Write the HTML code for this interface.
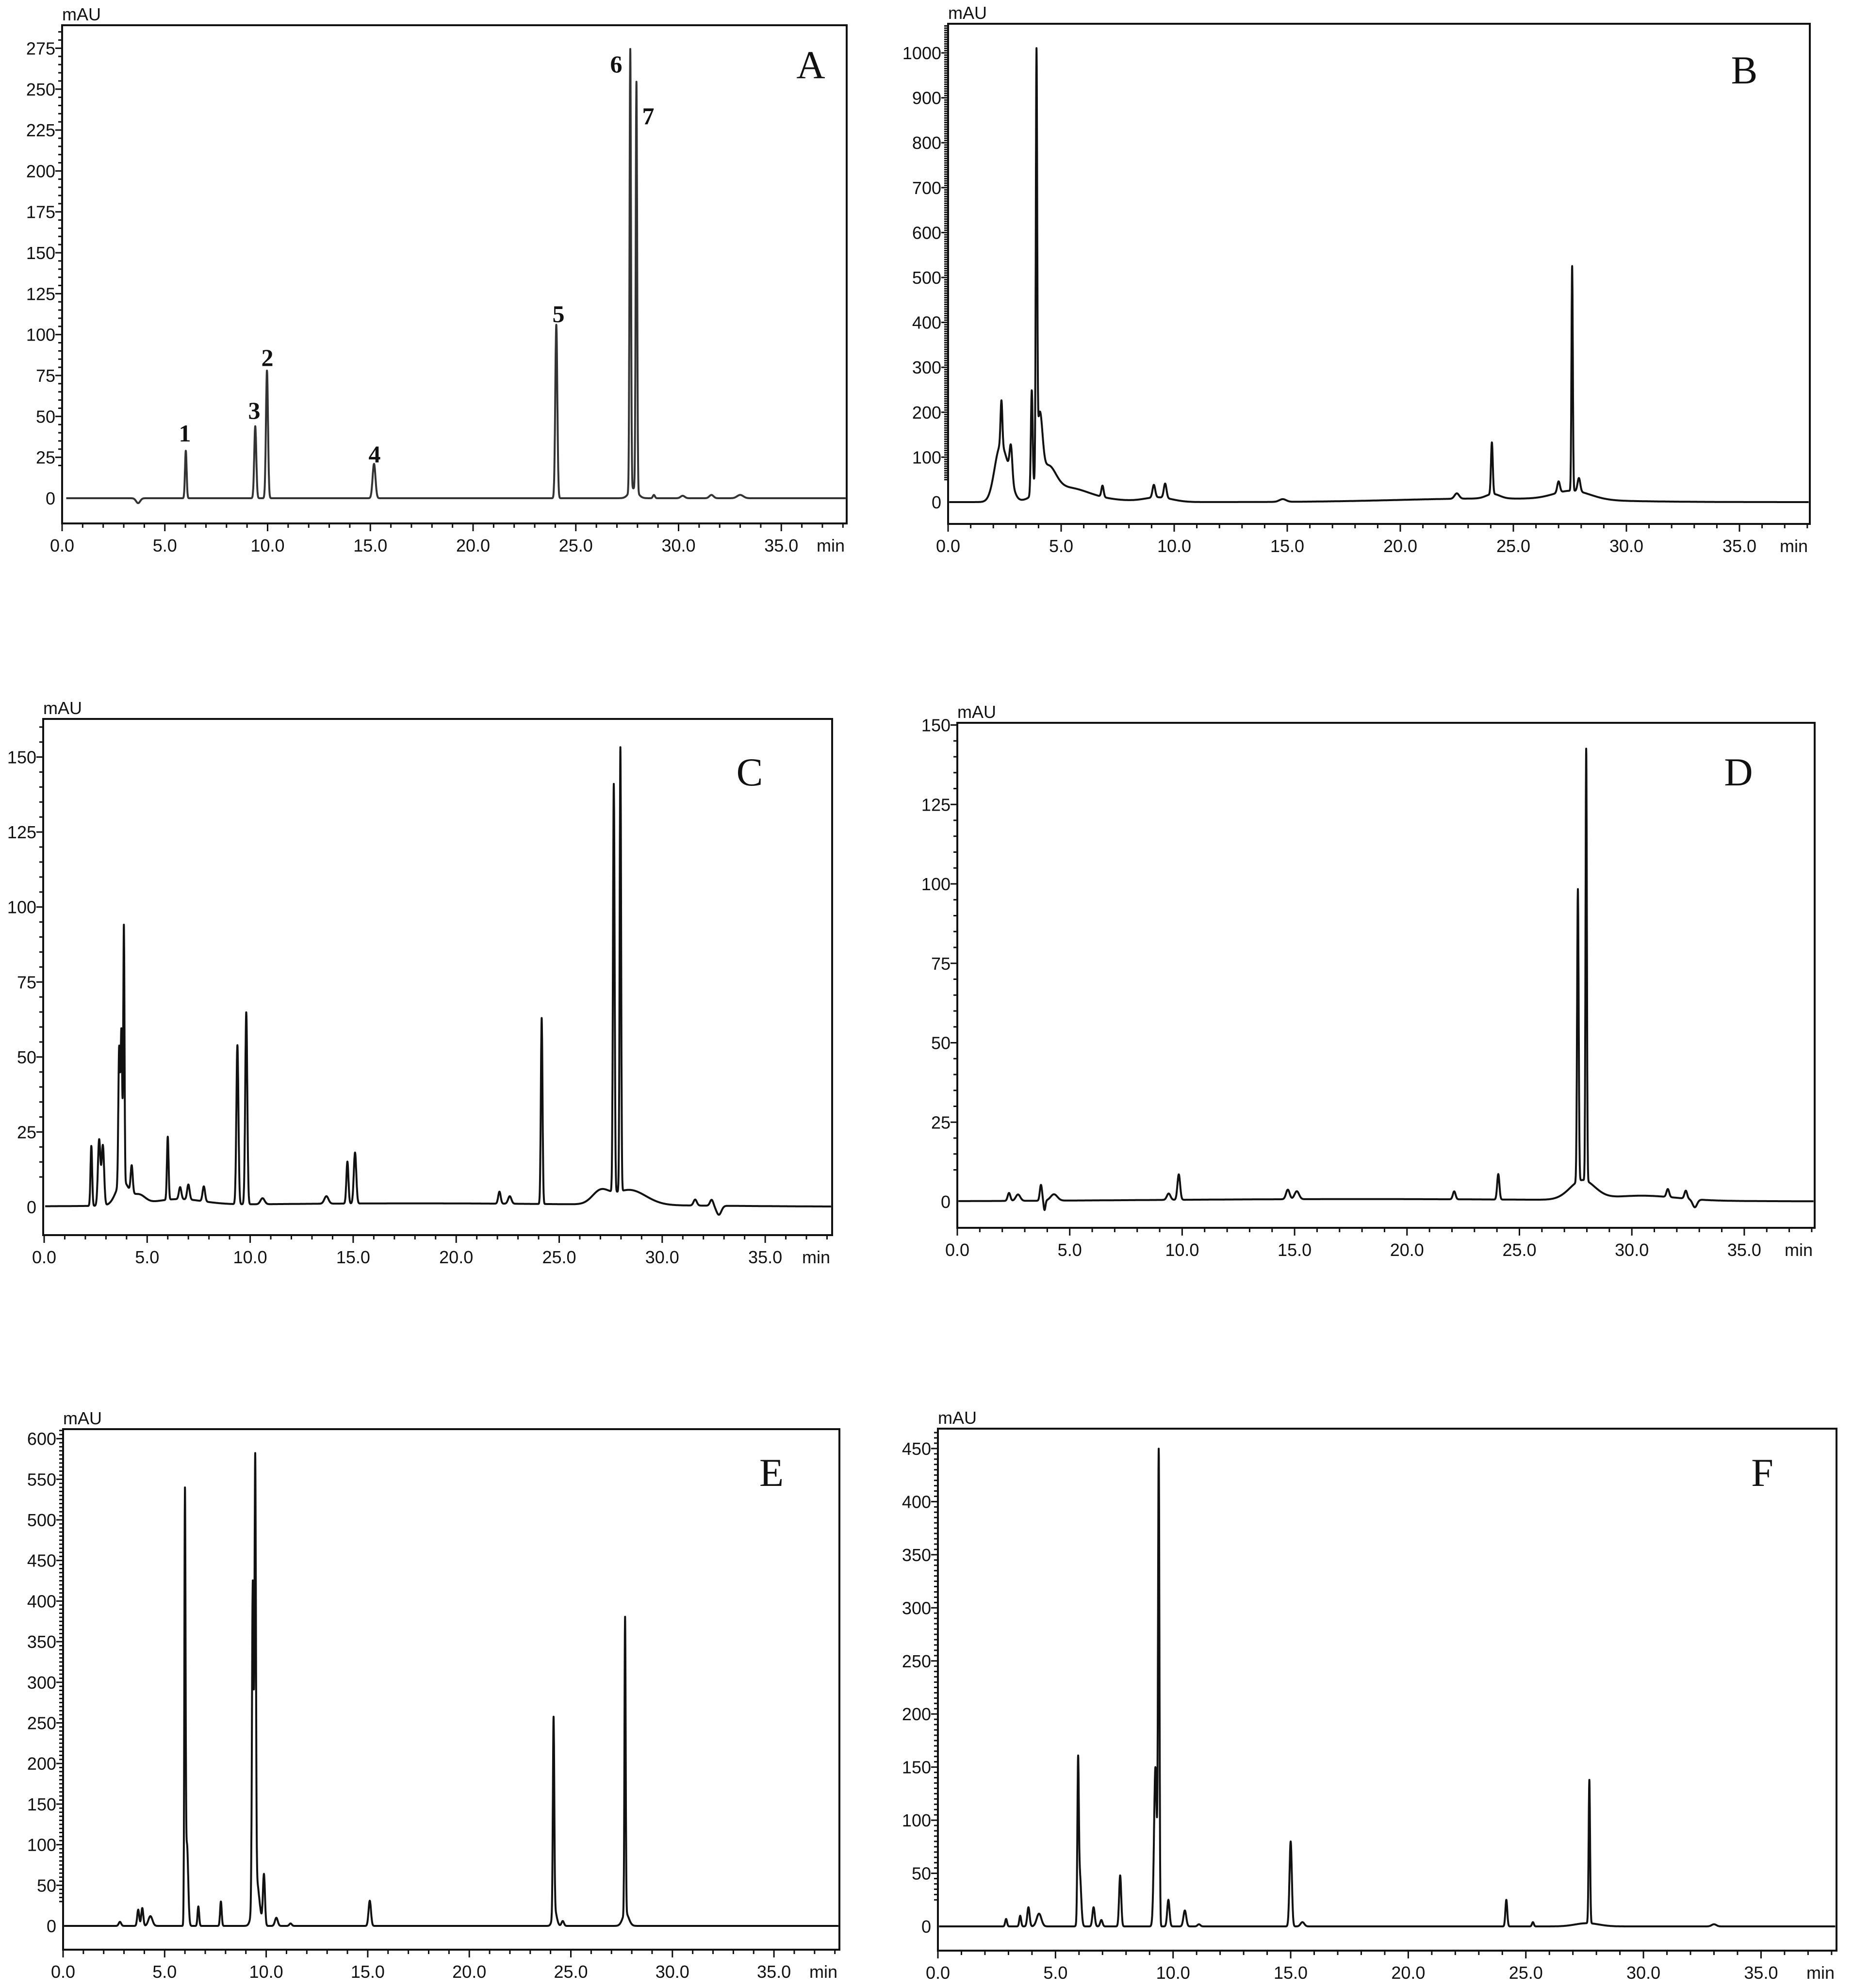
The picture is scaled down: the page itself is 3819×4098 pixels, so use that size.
<!DOCTYPE html>
<html><head><meta charset="utf-8"><title>HPLC chromatograms A–F</title>
<style>
html,body{margin:0;padding:0;background:#fff;}
svg{display:block;}
text{font-family:"Liberation Sans",sans-serif;fill:#111;}
.lt{font-family:"Liberation Serif",serif;}
</style></head>
<body>
<svg id="fig" xmlns="http://www.w3.org/2000/svg" width="3819" height="4098" viewBox="0 0 3819 4098"></svg>
<script>
// ---- data: peaks [time(min), height(mAU), sigma(min)] ----
const peaksA = [[3.7,-3,0.1],[6.02,29,0.04],[9.4,44,0.05],[9.97,78,0.05],[15.18,21,0.07],[24.05,106,0.05],[27.65,270,0.035],[27.95,250,0.035],[27.8,6,0.2],[28.8,2,0.05],[30.2,1.5,0.1],[31.6,2,0.1],[33.0,2,0.15]];
const peaksB = [[2.3,120,0.25],[2.36,100,0.04],[2.78,70,0.06],[2.7,40,0.2],[3.7,230,0.04],[3.91,900,0.03],[4.05,150,0.12],[4.4,60,0.35],[5.2,25,0.9],[6.0,8,1.5],[6.83,25,0.05],[9.1,28,0.06],[9.6,32,0.06],[9.3,10,0.6],[14.8,6,0.15],[22.5,12,0.1],[24.05,115,0.04],[24.1,10,0.3],[27.0,25,0.06],[27.6,500,0.03],[27.9,30,0.06],[27.6,20,0.8],[24,8,4]];
const peaksC = [[2.29,20,0.04],[2.67,22,0.06],[2.85,20,0.06],[3.64,45,0.04],[3.75,50,0.04],[3.87,85,0.03],[3.8,8,0.3],[4.25,9,0.05],[4.6,3,0.3],[6.0,21,0.04],[6.6,4,0.06],[7.0,5,0.06],[7.75,5,0.06],[6.5,2,1.2],[9.38,53,0.05],[9.81,64,0.05],[10.6,2,0.1],[13.7,2.5,0.1],[14.72,14,0.05],[15.09,17,0.06],[22.1,4,0.06],[22.6,2.5,0.08],[24.15,62,0.04],[27.0,4,0.4],[27.65,136,0.04],[27.97,148,0.035],[28.4,5,0.8],[31.6,2,0.08],[32.4,2,0.08],[32.75,-3,0.12],[18,1.2,10]];
const peaksD = [[2.3,2.5,0.06],[2.7,2,0.1],[3.72,5,0.05],[3.88,-3,0.04],[4.3,2,0.15],[9.85,8,0.06],[9.4,2,0.08],[14.7,3,0.08],[15.1,2.5,0.1],[22.1,2.5,0.06],[24.06,8,0.05],[27.8,6,0.55],[27.6,92,0.035],[27.97,136,0.03],[30.5,1.5,1.5],[31.6,2.5,0.06],[32.4,2.5,0.06],[32.8,-2.5,0.1],[18,0.8,10]];
const peaksE = [[2.8,5,0.06],[3.7,20,0.05],[3.9,22,0.05],[4.3,12,0.1],[6.0,515,0.03],[6.1,100,0.06],[6.66,24,0.04],[7.77,30,0.04],[9.34,390,0.04],[9.46,520,0.035],[9.5,60,0.15],[9.89,62,0.05],[10.5,10,0.07],[11.2,3,0.06],[15.1,31,0.06],[24.15,240,0.035],[24.2,20,0.1],[24.6,6,0.06],[27.67,365,0.03],[27.7,16,0.15]];
const peaksF = [[2.9,7,0.04],[3.5,10,0.04],[3.85,18,0.05],[4.3,12,0.1],[5.96,135,0.03],[6.03,50,0.06],[6.62,18,0.05],[6.95,6,0.05],[7.75,48,0.045],[9.25,150,0.06],[9.39,440,0.03],[9.8,25,0.05],[10.5,15,0.06],[11.1,2,0.06],[15.0,80,0.05],[15.5,4,0.08],[24.17,25,0.04],[25.3,4,0.04],[27.7,135,0.03],[27.6,3,0.5],[33.0,2,0.1]];

// ---- tick labels ----
const xTicks = ["0.0","5.0","10.0","15.0","20.0","25.0","30.0","35.0"];
const yTicksA = [0,25,50,75,100,125,150,175,200,225,250,275];
const yTicksB = [0,100,200,300,400,500,600,700,800,900,1000];
const yTicksC = [0,25,50,75,100,125,150];
const yTicksD = [0,25,50,75,100,125,150];
const yTicksE = [0,50,100,150,200,250,300,350,400,450,500,550,600];
const yTicksF = [0,50,100,150,200,250,300,350,400,450];
const panelLetters = ["A","B","C","D","E","F"];
const peakLabelsA = ["1","3","2","4","5","6","7"];

// ---- layout ----
const layouts = [
 {L:128,R:1745,T:52,B:1079,x0:128,ppm:42.35,z:1027,ppu:3.373,minor:5,lx:1671,ly:161,peaks:peaksA,yt:yTicksA},
 {L:1954,R:3730,T:49,B:1080,x0:1954,ppm:46.6,z:1035,ppu:0.926,minor:20,lx:3595,ly:172,peaks:peaksB,yt:yTicksB},
 {L:89,R:1715,T:1482,B:2546,x0:91,ppm:42.46,z:2488,ppu:6.183,minor:5,lx:1545,ly:1619,peaks:peaksC,yt:yTicksC},
 {L:1973,R:3740,T:1490,B:2531,x0:1973,ppm:46.34,z:2477,ppu:6.55,minor:5,lx:3583,ly:1619,peaks:peaksD,yt:yTicksD},
 {L:130,R:1730,T:2946,B:4019,x0:130,ppm:41.86,z:3970,ppu:1.674,minor:10,lx:1590,ly:3063,peaks:peaksE,yt:yTicksE},
 {L:1933,R:3785,T:2945,B:4021,x0:1933,ppm:48.47,z:3971,ppu:2.189,minor:10,lx:3632,ly:3063,peaks:peaksF,yt:yTicksF}
];
const peakLabelPos = [[381,910],[524,863],[551,754],[772,953],[1151,664],[1270,149],[1336,256]];

const NS="http://www.w3.org/2000/svg";
const svg=document.getElementById('fig');
function mk(tag,attrs,parent){const e=document.createElementNS(NS,tag);for(const k in attrs)e.setAttribute(k,attrs[k]);(parent||svg).appendChild(e);return e;}

layouts.forEach((p,i)=>{
  const g=mk('g',{});
  
  
  const X=t=>p.x0+t*p.ppm, Y=v=>p.z-v*p.ppu;
  const fr=mk('rect',{x:p.L,y:p.T,width:p.R-p.L,height:p.B-p.T,fill:'none',stroke:'#111','stroke-width':4},g);
  
  
  const tmax=(p.R-p.x0)/p.ppm;
  for(let t=0;t<=tmax+1e-6;t+=1){
    const major=Math.round(t)%5===0;
    mk('line',{x1:X(t),x2:X(t),y1:p.B,y2:p.B+(major?16:9),stroke:'#111','stroke-width':3},g);
  }
  xTicks.forEach((s,k)=>{
    const tx=mk('text',{x:X(k*5),y:p.B+58,'font-size':36,'text-anchor':'middle'},g);
    tx.textContent=s;
    
    
  });
  const mn=mk('text',{x:p.R-4,y:p.B+58,'font-size':36,'text-anchor':'end'},g);
  mn.textContent='min';
  
  
  const step=p.yt[1]-p.yt[0];
  const vmin=(p.z-p.B)/p.ppu*-1, vmax=(p.z-p.T)/p.ppu;
  const ms=step/p.minor;
  for(let v=Math.ceil(vmin/ms)*ms; v<=vmax; v+=ms){
    const major=Math.abs(v/step-Math.round(v/step))<1e-6;
    mk('line',{x1:p.L-(major?14:8),x2:p.L,y1:Y(v),y2:Y(v),stroke:'#111','stroke-width':3},g);
  }
  p.yt.forEach(v=>{
    const tx=mk('text',{x:p.L-14,y:Y(v)+13,'font-size':36,'text-anchor':'end'},g);
    tx.textContent=String(v);
    
    
  });
  const mau=mk('text',{x:p.L,y:p.T-10,'font-size':36},g);
  mau.textContent='mAU';
  
  
  let d='';
  const t0=0.15*(i===0?1:0)+0.05;
  for(let t=t0;t<=tmax-0.05;t+=0.005){
    let v=0;
    for(const pk of p.peaks){const u=(t-pk[0])/pk[2];if(Math.abs(u)<8)v+=pk[1]*Math.exp(-0.5*u*u);}
    d+=(d?'L':'M')+X(t).toFixed(1)+','+Y(v).toFixed(1);
  }
  const tr=mk('path',{d:d,fill:'none',stroke:i===0?'#333':'#111','stroke-width':4,'stroke-linejoin':'round'},g);
  
  
  const lt=mk('text',{x:p.lx,y:p.ly,'font-size':82,'text-anchor':'middle',class:'lt'},g);
  lt.textContent=panelLetters[i];
  
  
});
peakLabelsA.forEach((s,k)=>{
  const tx=mk('text',{x:peakLabelPos[k][0],y:peakLabelPos[k][1],'font-size':50,'font-weight':'bold','text-anchor':'middle',class:'lt'});
  tx.textContent=s;
  
  
});
</script>
</body></html>
